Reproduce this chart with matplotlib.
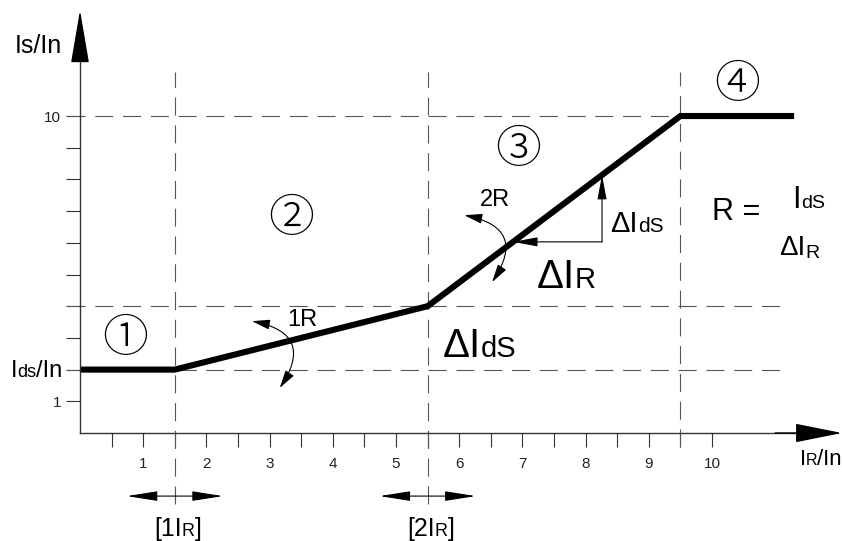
import numpy as np
import matplotlib
matplotlib.use('Agg')
import matplotlib.pyplot as plt
import matplotlib.transforms as mtransforms

# ------------------------------------------------------
# Differential relay characteristic (Is/In vs IR/In)
# ------------------------------------------------------

# characteristic breakpoints
knee_x = [0, 1.5, 5.5, 9.5, 11.3]
knee_y = [2, 2, 4, 10, 10]

# axis ticks
x_major = [1, 2, 3, 4, 5, 6, 7, 8, 9, 10]
x_minor = [0.5, 1.5, 2.5, 3.5, 4.5, 5.5, 6.5, 7.5, 8.5, 9.5]
y_ticks = [1, 2, 3, 4, 5, 6, 7, 8, 9, 10]
y_tick_labels = ['1', '', '', '', '', '', '', '', '', '10']

# dashed guide lines
guide_x = [1.5, 5.5, 9.5]
guide_y = [2, 4, 10]

# zone markers
zone_labels = ['\u2460', '\u2461', '\u2462', '\u2463']
zone_x = [0.71, 3.34, 6.93, 10.40]
zone_y = [2.97, 6.75, 8.93, 10.98]

plt.rcParams['font.family'] = ['Liberation Sans', 'DejaVu Sans']
plt.rcParams['lines.scale_dashes'] = False

AXC = '#333333'
DASHC = '#555555'
DASH = (0, (13, 7))

fig = plt.figure(figsize=(8.42, 5.41), dpi=100)
ax = fig.add_axes([0, 0, 1, 1])
ax.set_xlim(-1.266, 12.057)
ax.set_ylim(-3.407, 13.66)


def rich_text(ax, x, y, parts, ha='left'):
    # parts: (string, fontsize, rise in points) placed one after another on a baseline
    r = ax.figure.canvas.get_renderer()
    made = []
    for s, fs, rise in parts:
        t = ax.text(x, y, s, fontsize=fs, ha='left', va='baseline', color='black')
        w = t.get_window_extent(r).width * 72.0 / ax.figure.dpi
        made.append((t, w, rise))
    total = sum(m[1] for m in made)
    start = {'left': 0.0, 'center': -total / 2.0, 'right': -total}[ha]
    for t, w, rise in made:
        t.set_transform(mtransforms.offset_copy(ax.transData, fig=ax.figure,
                                                x=start, y=rise, units='points'))
        start += w


# axes spines through the origin
for side in ['top', 'right']:
    ax.spines[side].set_visible(False)
ax.spines['left'].set_position(('data', 0))
ax.spines['bottom'].set_position(('data', 0))
ax.spines['left'].set_bounds(0, 12.5)
ax.spines['bottom'].set_bounds(0, 11.5)
for side in ['left', 'bottom']:
    ax.spines[side].set_color(AXC)
    ax.spines[side].set_linewidth(1.0)

ax.set_xticks(x_major)
ax.set_xticklabels([str(v) for v in x_major])
ax.set_xticks(x_minor, minor=True)
ax.set_yticks(y_ticks)
ax.set_yticklabels(y_tick_labels)
ax.tick_params(axis='both', which='both', direction='out', length=10, width=0.8,
               color=AXC, labelsize=11, labelcolor='#222222')
ax.tick_params(axis='x', which='both', pad=7.5)
ax.tick_params(axis='y', which='both', pad=3.5)

# arrow heads of the axes
ax.annotate('', xy=(12.057, 0), xytext=(11.0, 0),
            arrowprops=dict(arrowstyle='-|>,head_length=3.0,head_width=0.6',
                            mutation_scale=10, lw=1.0, color='black',
                            shrinkA=0, shrinkB=0))
ax.annotate('', xy=(0, 13.34), xytext=(0, 12.0),
            arrowprops=dict(arrowstyle='-|>,head_length=3.4,head_width=0.58',
                            mutation_scale=10, lw=1.0, color='black',
                            shrinkA=0, shrinkB=0))

# dashed guides
ax.vlines(guide_x, [-2.25, -2.25, -0.44], 11.39, colors=DASHC, linewidth=0.8,
          linestyles=DASH)
ax.hlines(guide_y, -0.2, [11.08, 11.08, guide_x[2]], colors=DASHC, linewidth=0.8,
          linestyles=DASH)

# characteristic
ax.plot(knee_x, knee_y, color='black', lw=4.4, solid_joinstyle='miter',
        solid_capstyle='butt')

# zone markers
for lab, zx, zy in zip(zone_labels, zone_x, zone_y):
    ax.text(zx, zy, lab, fontsize=33, ha='center', va='center', fontweight='light',
            family=['Noto Sans CJK JP', 'DejaVu Sans'])

# slope arrows 1R / 2R
for (xa, ya), (xb, yb) in [((2.72, 3.53), (3.16, 1.42)), ((6.08, 6.87), (6.52, 4.76))]:
    ax.annotate('', xy=(xb, yb), xytext=(xa, ya),
                arrowprops=dict(arrowstyle='<|-|>,head_length=1.1,head_width=0.3',
                                mutation_scale=10, lw=0.8, color='black',
                                connectionstyle='arc3,rad=-0.75',
                                shrinkA=0, shrinkB=0))
ax.text(3.51, 3.56, '1R', fontsize=17, ha='center', va='center')
ax.text(6.57, 7.35, '2R', fontsize=17, ha='center', va='center')

# slope triangle on the 2R segment
corner_x, corner_y = 8.26, 6.03
tip_y = np.interp(corner_x, knee_x, knee_y)
tip_x = np.interp(corner_y, knee_y[2:4], knee_x[2:4])
for xy in [(corner_x, tip_y), (tip_x, corner_y)]:
    ax.annotate('', xy=xy, xytext=(corner_x, corner_y),
                arrowprops=dict(arrowstyle='-|>,head_length=1.5,head_width=0.28',
                                mutation_scale=10, lw=0.8, color='black',
                                shrinkA=0, shrinkB=0))

# restraint range arrows
for cx in [guide_x[0], guide_x[1]]:
    ax.annotate('', xy=(cx + 0.76, -1.99), xytext=(cx - 0.76, -1.99),
                arrowprops=dict(arrowstyle='<|-|>,head_length=1.9,head_width=0.3',
                                mutation_scale=10, lw=0.8, color='black',
                                shrinkA=0, shrinkB=0))
rich_text(ax, 1.55, -3.25, [('[1I', 18, 0), ('R', 13, 0), (']', 18, 0)], ha='center')
rich_text(ax, 5.55, -3.25, [('[2I', 18, 0), ('R', 13, 0), (']', 18, 0)], ha='center')

# axis titles
rich_text(ax, -0.285, 12.0, [('Is/In', 18, 0)], ha='right')
rich_text(ax, 11.39, -1.0, [('I', 16, 0), ('R', 11.5, 0), ('/In', 16, 0)])
rich_text(ax, -0.28, 1.76, [('I', 17, 0), ('ds', 13, 0), ('/In', 17, 0)], ha='right')

# delta annotations
rich_text(ax, 5.74, 2.40, [('\u0394I', 29, 0), ('dS', 21, 0)])
rich_text(ax, 7.23, 4.57, [('\u0394I', 29, 0), ('R', 21, 0)])
rich_text(ax, 8.39, 6.34, [('\u0394I', 21, 0), ('dS', 15, 0)])

# R = IdS / dIR
rich_text(ax, 10.0, 6.72, [('R =', 22, 0)])
rich_text(ax, 11.27, 7.10, [('I', 22, 0), ('dS', 14, 0)])
rich_text(ax, 11.06, 5.62, [('\u0394I', 20, 0), ('R', 14, -2)])

fig.savefig('out.png', dpi=100)
